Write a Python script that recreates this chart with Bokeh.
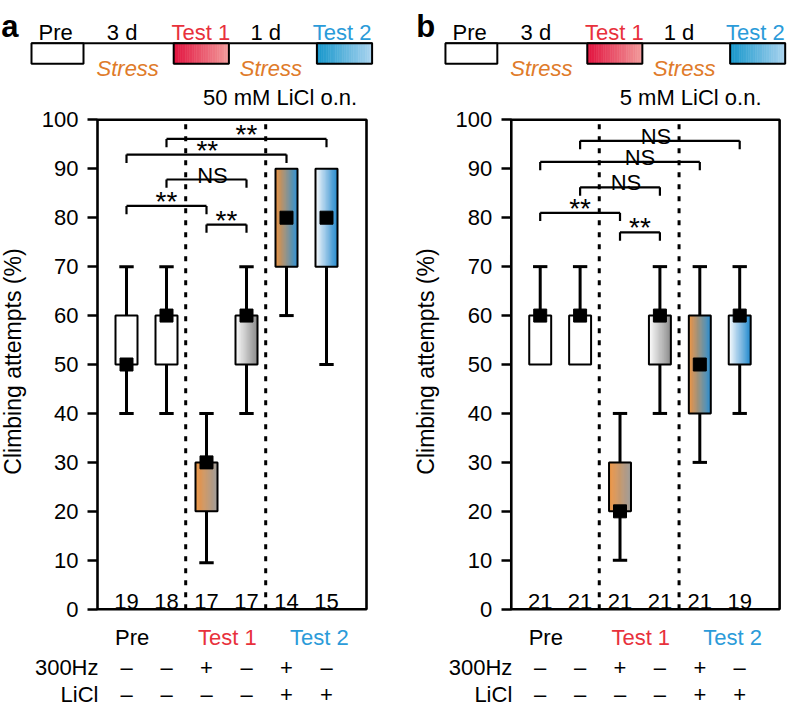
import numpy as np
from bokeh.plotting import figure
from bokeh.models import LinearAxis, FixedTicker, Range1d
from bokeh.layouts import row
from bokeh.core.properties import value
from bokeh.embed import file_html
from bokeh.resources import INLINE

# ------------------------------------------------------------------ data
groups = [1, 2, 3, 4, 5, 6]

a_whisk_lo = [40, 40, 9.5, 40, 60, 50]
a_q1 = [50, 50, 20, 50, 70, 70]
a_median = [50, 60, 30, 60, 80, 80]
a_q3 = [60, 60, 30, 60, 90, 90]
a_whisk_hi = [70, 70, 40, 70, 90, 90]
a_n = [19, 18, 17, 17, 14, 15]

b_whisk_lo = [50, 50, 10, 40, 30, 40]
b_q1 = [50, 50, 20, 50, 40, 50]
b_median = [60, 60, 20, 60, 50, 60]
b_q3 = [60, 60, 30, 60, 60, 60]
b_whisk_hi = [70, 70, 40, 70, 70, 70]
b_n = [21, 21, 21, 21, 21, 19]

box_fills = ["white", "white", "orange-gray", "white-gray", "orange-blue", "white-blue"]

hz_signs = ["\u2013", "\u2013", "+", "\u2013", "+", "\u2013"]
licl_signs = ["\u2013", "\u2013", "\u2013", "\u2013", "+", "+"]
row_labels = ["300Hz", "LiCl"]
phase_labels = ["Pre", "Test 1", "Test 2"]
header_labels = ["Pre", "3 d", "Test 1", "1 d", "Test 2"]
stress_labels = ["Stress", "Stress"]
y_label = "Climbing attempts (%)"
y_ticks = [0, 10, 20, 30, 40, 50, 60, 70, 80, 90, 100]

sig_left = [1, 3, 2, 1, 2]
sig_right = [3, 4, 4, 5, 6]
a_sig_level = [82.4, 78.6, 87.8, 92.9, 96.1]
a_sig_text = ["**", "**", "NS", "**", "**"]
b_sig_level = [81.0, 77.0, 86.2, 91.4, 95.7]
b_sig_text = ["**", "**", "NS", "NS", "NS"]

# ------------------------------------------------------------------ style / layout
FONT = "Liberation Sans"
RED = "#e8313c"
BLUE = "#2b9bd9"
ORANGE = "#e07b2a"
GRADS = {
    "white": ("#ffffff", "#ffffff"),
    "orange-gray": ("#f2953f", "#9c9a98"),
    "white-gray": ("#ffffff", "#8a8a8a"),
    "orange-blue": ("#f2923a", "#2b8fd2"),
    "white-blue": ("#ffffff", "#1f86cc"),
    "red": ("#e2123e", "#f29c9c"),
    "blue": ("#1596cb", "#abd4ef"),
}
FRAME_L, FRAME_R = 0.275, 7.0
DIVIDERS = [2.48, 4.48]
BOX_W = 0.55
CAP_W = 0.36
Y0, Y1 = -19.88, 124.38


def hex2rgb(h):
    h = h.lstrip("#")
    return np.array([int(h[i:i + 2], 16) for i in (0, 2, 4)], dtype=float)


def grad_quad(p, left, right, bottom, top, c0, c1, n=24):
    edges = np.linspace(left, right, n + 1)
    t = (np.arange(n) + 0.5) / n
    a, b = hex2rgb(c0), hex2rgb(c1)
    cols = ["#%02x%02x%02x" % tuple(int(round(v)) for v in (a + (b - a) * ti)) for ti in t]
    p.quad(left=edges[:-1], right=edges[1:], bottom=bottom, top=top,
           fill_color=cols, line_color=cols, line_width=0.6)


def txt(p, xs, ys, texts, size="22px", color="black", align="center",
        baseline="alphabetic", style="normal", angle=0.0):
    p.text(x=list(xs), y=list(ys), text=list(texts), text_font=value(FONT),
           text_font_size=size, text_color=color, text_align=align,
           text_baseline=baseline, text_font_style=style, angle=angle)


def make_panel(letter, x_range, lo, q1, med, q3, hi, ns, sig_level, sig_text,
               sig_text_x, note, note_x):
    x0, x1 = x_range
    p = figure(width=394, height=706, x_range=Range1d(x0, x1), y_range=Range1d(Y0, Y1),
               output_backend="svg", toolbar_location=None, min_border=0,
               x_axis_location=None, y_axis_location=None)
    p.outline_line_color = None
    p.grid.visible = False
    p.background_fill_color = "white"

    # ---- header timeline
    bar_l, bar_r = -1.375, 7.15
    top_y, bot_y = 115.65, 111.44
    p.segment(x0=[bar_l], y0=[top_y], x1=[bar_r], y1=[top_y], line_color="black", line_width=2)
    hb_left = [-1.375, 2.18, 5.76]
    hb_right = [-0.075, 3.56, 7.14]
    hb_fill = ["white", "red", "blue"]
    for l, r, f in zip(hb_left, hb_right, hb_fill):
        grad_quad(p, l, r, bot_y, top_y, *GRADS[f])
    p.quad(left=hb_left, right=hb_right, bottom=bot_y, top=top_y,
           fill_color=None, line_color="black", line_width=2)
    hx = [-0.77, 0.89, 2.86, 4.48, 6.39]
    txt(p, hx, [117.9] * 5, header_labels, color=["black", "black", RED, "black", BLUE])
    txt(p, [1.03, 4.61], [110.4, 110.4], stress_labels, color=ORANGE, style="italic")
    txt(p, [note_x], [104.6], [note])
    txt(p, [letter[1]], [119.0], [letter[0]], size="31px", align="left", style="bold")

    # ---- significance brackets
    leg = 1.7
    xs0, ys0, xs1, ys1 = [], [], [], []
    for l, r, lev in zip(sig_left, sig_right, sig_level):
        xs0 += [l, l, r]; ys0 += [lev - leg, lev, lev]
        xs1 += [l, r, r]; ys1 += [lev, lev, lev - leg]
    p.segment(x0=xs0, y0=ys0, x1=xs1, y1=ys1, line_color="black", line_width=2.2)
    for tx, lev, s in zip(sig_text_x, sig_level, sig_text):
        if s == "**":
            txt(p, [tx], [lev + 0.9], [s], size="28px")
        else:
            txt(p, [tx], [lev + 0.9], [s], size="22px")

    # ---- dividers
    p.segment(x0=DIVIDERS, y0=[0, 0], x1=DIVIDERS, y1=[100, 100], line_color="black",
              line_width=3, line_dash="5 7")

    # ---- whiskers
    wx0, wy0, wx1, wy1 = [], [], [], []
    cx0, cy, cx1 = [], [], []
    for g, a, b, c, d in zip(groups, lo, q1, q3, hi):
        if a < b:
            wx0.append(g); wy0.append(a); wx1.append(g); wy1.append(b)
            cx0.append(g - CAP_W / 2); cx1.append(g + CAP_W / 2); cy.append(a)
        if d > c:
            wx0.append(g); wy0.append(c); wx1.append(g); wy1.append(d)
            cx0.append(g - CAP_W / 2); cx1.append(g + CAP_W / 2); cy.append(d)
    p.segment(x0=wx0, y0=wy0, x1=wx1, y1=wy1, line_color="black", line_width=3)
    p.segment(x0=cx0, y0=cy, x1=cx1, y1=cy, line_color="black", line_width=3)

    # ---- boxes
    for g, b, c, f in zip(groups, q1, q3, box_fills):
        grad_quad(p, g - BOX_W / 2, g + BOX_W / 2, b, c, *GRADS[f])
    p.quad(left=[g - BOX_W / 2 for g in groups], right=[g + BOX_W / 2 for g in groups],
           bottom=q1, top=q3, fill_color=None, line_color="black", line_width=2)
    p.scatter(x=groups, y=med, marker="square", size=13, fill_color="black", line_color="black")

    # ---- frame
    p.quad(left=[FRAME_L], right=[FRAME_R], bottom=[0], top=[100], fill_color=None,
           line_color="black", line_width=2.6)

    # ---- n and bottom labels
    txt(p, groups, [1.6] * 6, [str(v) for v in ns])
    txt(p, [1.14, 3.52, 5.82], [-5.72] * 3, phase_labels, color=["black", RED, BLUE])
    txt(p, [0.3, 0.3], [-11.85, -17.5], row_labels, align="right")
    txt(p, groups, [-11.85] * 6, hz_signs)
    txt(p, groups, [-17.5] * 6, licl_signs)

    # ---- y axis label (rotated)
    txt(p, [-1.85], [50.6], [y_label], size="23px", baseline="middle", angle=np.pi / 2)

    ax = LinearAxis(fixed_location=FRAME_L, ticker=FixedTicker(ticks=y_ticks),
                    axis_line_color=None, major_tick_in=0, major_tick_out=10,
                    major_tick_line_width=2.5, major_tick_line_color="black",
                    minor_tick_line_color=None,
                    major_label_standoff=9, major_label_text_font=FONT,
                    major_label_text_color="black",
                    major_label_text_font_size="22px")
    p.add_layout(ax, "left")
    return p


pa = make_panel(("a", -2.13), (-2.15, 7.7), a_whisk_lo, a_q1, a_median, a_q3, a_whisk_hi,
                a_n, a_sig_level, a_sig_text, [2.0, 3.5, 3.15, 3.02, 4.0],
                "50 mM LiCl o.n.", 4.84)
pb = make_panel(("b", -2.11), (-2.652, 7.223), b_whisk_lo, b_q1, b_median, b_q3, b_whisk_hi,
                b_n, b_sig_level, b_sig_text, [2.0, 3.5, 3.15, 3.5, 3.9],
                "5 mM LiCl o.n.", 4.77)

layout = row(pa, pb)
open("out.html", "w").write(file_html(layout, INLINE))
